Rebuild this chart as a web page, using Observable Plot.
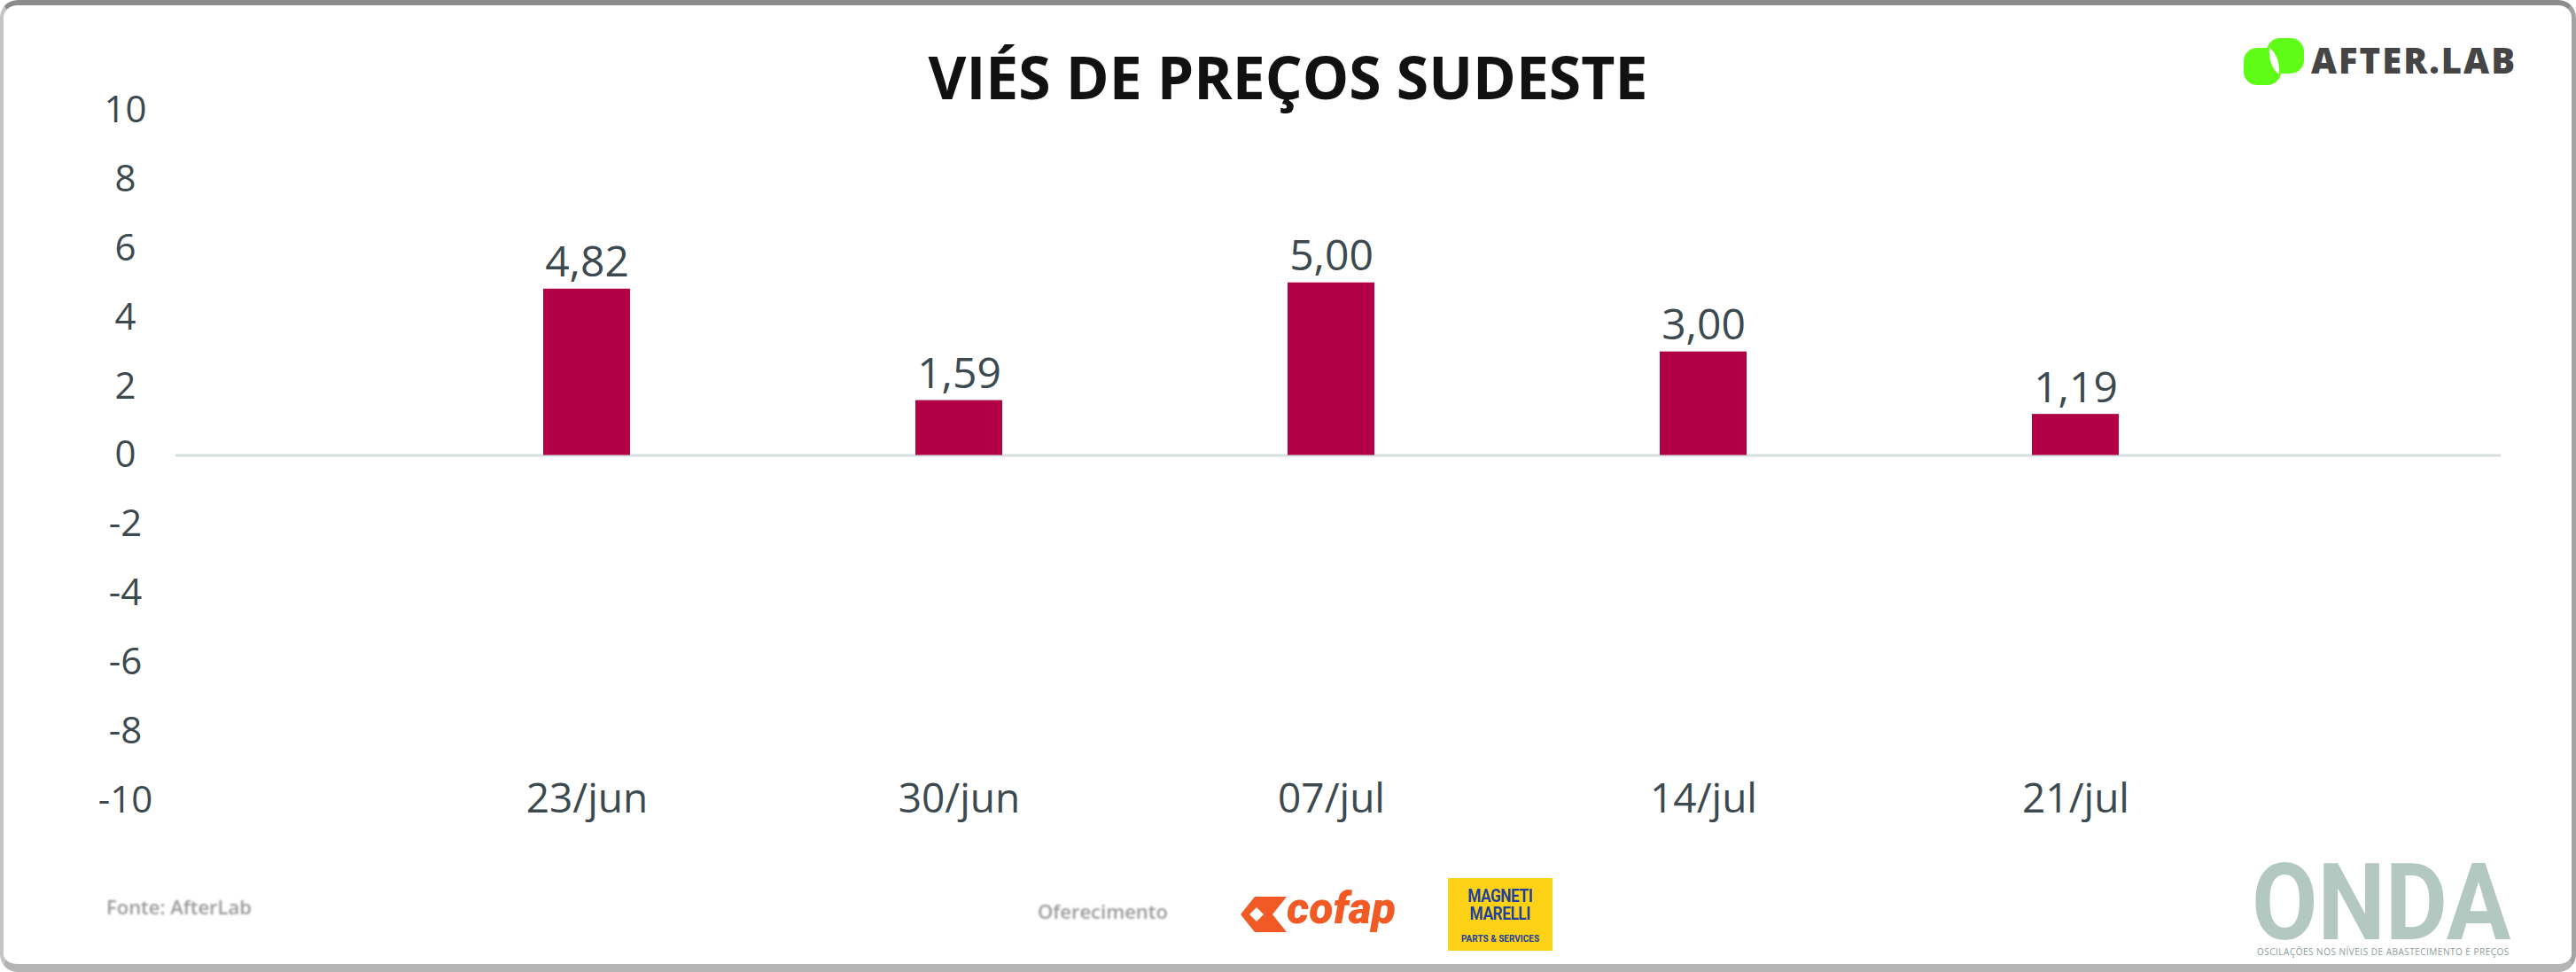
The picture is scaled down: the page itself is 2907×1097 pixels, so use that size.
<!DOCTYPE html>
<html>
<head>
<meta charset="utf-8">
<script src="https://cdn.jsdelivr.net/npm/d3@7"></script>
<script src="https://cdn.jsdelivr.net/npm/@observablehq/plot@0.6"></script>
<style>
html, body { margin: 0; padding: 0; background: #fff; }
#page { position: relative; width: 2907px; height: 1097px; overflow: hidden; background: #fff; font-family: "Open Sans", sans-serif; }
#chart { position: absolute; left: 0; top: 0; }
#title { position: absolute; left: 0; top: 41px; width: 2907px; text-align: center; font: 700 66px "Open Sans", sans-serif; color: #111; line-height: normal; white-space: nowrap; }
#alogo { position: absolute; left: 2532px; top: 43px; }
#atext { position: absolute; left: 2608px; top: 48px; font: 800 40px/40px "Open Sans", sans-serif; color: #454545; letter-spacing: 2px; white-space: nowrap; }
#fonte { position: absolute; left: 120px; top: 1008px; font: 600 22px/30px "Open Sans", sans-serif; color: #9a9a9a; white-space: nowrap; filter: blur(0.8px); }
#ofer { position: absolute; left: 1171px; top: 1013px; font: 600 22px/30px "Open Sans", sans-serif; color: #9a9a9a; white-space: nowrap; filter: blur(0.8px); }
#cofapmark { position: absolute; left: 1400px; top: 1012px; }
#cofap { position: absolute; left: 1452px; top: 1000px; font: italic 900 50px/50px Roboto, sans-serif; color: #f15a24; white-space: nowrap; }
#mm { position: absolute; left: 1634px; top: 991px; width: 118px; height: 82px; background: #fcd116; color: #1f3f9e; text-align: center; font-family: Roboto, sans-serif; }
#mm .l1 { position: absolute; left: 0; width: 118px; top: 10px; font: 700 21px/21px Roboto, sans-serif; transform: scaleX(0.82); letter-spacing: -0.5px; }
#mm .l2 { position: absolute; left: 0; width: 118px; top: 30px; font: 700 21px/21px Roboto, sans-serif; transform: scaleX(0.82); letter-spacing: -0.5px; }
#mm .l3 { position: absolute; left: 0; width: 118px; top: 64px; font: 700 10px/10px Roboto, sans-serif; }
#onda { position: absolute; left: 2541px; top: 977px; font: 700 120px/84px Roboto, sans-serif; color: #b2c8c0; transform: scaleX(0.9); transform-origin: left top; white-space: nowrap; }
#ondasub { position: absolute; left: 2547px; top: 1069px; font: 400 10px/10px "Open Sans", sans-serif; color: #8c9d98; letter-spacing: 0.5px; white-space: nowrap; }
#frame { position: absolute; left: 0; top: 0; width: 2907px; height: 1097px; box-sizing: border-box; border-top: 6px solid #8c8c8c; border-left: 4px solid #c4c4c4; border-right: 5px solid #a3a3a3; border-bottom: 9px solid #b4b4b4; border-radius: 20px; pointer-events: none; }
</style>
</head>
<body>
<div id="page">
  <div id="chart"></div>
  <div id="title">VIÉS DE PREÇOS SUDESTE</div>
  <svg id="alogo" width="70" height="54" viewBox="0 0 70 54">
    <rect x="26" y="0" width="42" height="40" rx="15" fill="#5efc16"/>
    <rect x="0" y="11" width="42" height="42" rx="15" fill="#5efc16"/>
    <path d="M29,11 Q41,20 40,41 Q28,32 29,11 Z" fill="#fff"/>
  </svg>
  <div id="atext">AFTER.LAB</div>
  <div id="fonte">Fonte: AfterLab</div>
  <div id="ofer">Oferecimento</div>
  <svg id="cofapmark" width="52" height="40" viewBox="0 0 52 40">
    <polygon points="0,20 16,0 52,0 36,20 52,40 16,40" fill="#f15a24"/>
    <polygon points="10,20 18,12 26,20 18,28" fill="#fff"/>
  </svg>
  <div id="cofap">cofap</div>
  <div id="mm"><div class="l1">MAGNETI</div><div class="l2">MARELLI</div><div class="l3">PARTS &amp; SERVICES</div></div>
  <div id="onda">ONDA</div>
  <div id="ondasub">OSCILAÇÕES NOS NÍVEIS DE ABASTECIMENTO E PREÇOS</div>
  <div id="frame"></div>
</div>
<script>
const weeks = ["23/jun", "30/jun", "07/jul", "14/jul", "21/jul"];
const values = [4.82, 1.59, 5.00, 3.00, 1.19];
const yTicks = [-10, -8, -6, -4, -2, 0, 2, 4, 6, 8, 10];

const rows = weeks.map((w, i) => ({week: w, value: values[i]}));
const fmt = v => v.toFixed(2).replace(".", ",");

const chart = Plot.plot({
  width: 2907,
  height: 960,
  marginTop: 124,
  marginBottom: 57,
  marginLeft: 198,
  marginRight: 85,
  style: {background: "transparent", fontFamily: "'Open Sans', sans-serif", color: "#3c4a4f"},
  x: {domain: weeks, paddingInner: 0.767, paddingOuter: 1.0, align: 0.49, axis: null},
  y: {domain: [-10, 10], axis: null},
  marks: [
    Plot.ruleY([0], {stroke: "#d6e1df", strokeWidth: 3}),
    Plot.barY(rows, {x: "week", y: "value", fill: "#b10046"}),
    Plot.text(rows, {x: "week", y: "value", text: d => fmt(d.value), lineAnchor: "bottom", dy: -14, fontSize: 48, fill: "#3c4a4f"}),
    Plot.axisY(yTicks, {tickSize: 0, tickPadding: 57, textAnchor: "middle", fontSize: 42, tickFormat: d => String(d), label: null}),
    Plot.axisX({tickSize: 0, tickPadding: -19, fontSize: 46, label: null})
  ]
});
document.getElementById("chart").appendChild(chart);
</script>
</body>
</html>
